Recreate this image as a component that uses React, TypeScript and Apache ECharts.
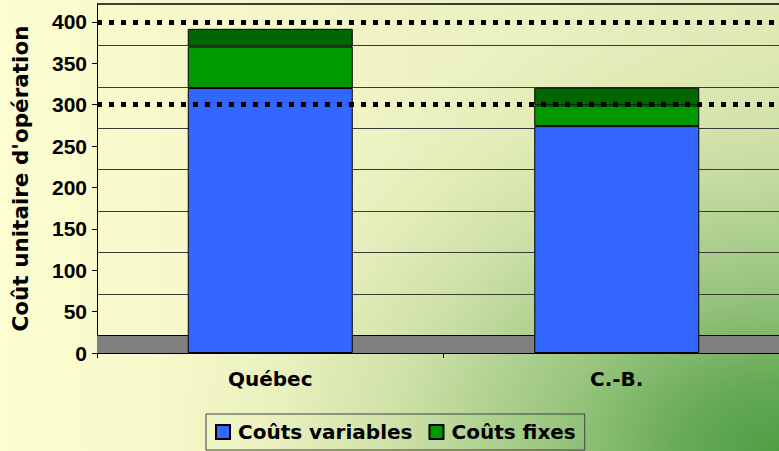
import React, { useEffect, useRef } from "react";
import * as echarts from "echarts";

const CATEGORIES = ["Québec", "C.-B."];
const VARIABLE_COSTS = [320, 274];
const FIXED_COSTS = [50, 25];
const REFERENCE_LINES = [400, 300];
const Y_TICKS = [0, 50, 100, 150, 200, 250, 300, 350, 400];
const SERIES_NAMES = ["Coûts variables", "Coûts fixes"];
const AXIS_TITLE = "Coût unitaire d'opération";

// 3D depth of the original Excel chart (floor / top faces), in axis units
const DEPTH = 21.5;

const TXT = "'DejaVu Sans', sans-serif";

export default function App() {
  const ref = useRef<HTMLDivElement>(null);
  useEffect(() => {
    if (!ref.current) return;
    const chart = echarts.init(ref.current, undefined, { renderer: "svg" });
    const yMax = Y_TICKS[Y_TICKS.length - 1] + DEPTH;
    const barStyle = (color: string) => ({ color, borderColor: "#000", borderWidth: 1 });
    chart.setOption({
      animation: false,
      backgroundColor: "transparent",
      grid: { left: 97, top: 4, height: 349, width: 693, containLabel: false, outerBoundsMode: "none" },
      legend: {
        data: SERIES_NAMES,
        left: 206,
        top: 414,
        orient: "horizontal",
        itemWidth: 14,
        itemHeight: 14,
        itemGap: 16,
        padding: [7, 9, 7, 9],
        borderColor: "#404040",
        borderWidth: 1,
        icon: "rect",
        textStyle: { fontFamily: TXT, fontWeight: "bold", fontSize: 20, color: "#000", lineHeight: 22, padding: [0, 0, 0, 3] },
      },
      xAxis: {
        type: "category",
        data: CATEGORIES,
        axisLine: { lineStyle: { color: "#000", width: 1 } },
        axisTick: { show: true, length: 5, lineStyle: { color: "#000" } },
        axisLabel: { margin: 16, fontFamily: TXT, fontWeight: "bold", fontSize: 20, color: "#000" },
        splitLine: { show: false },
      },
      yAxis: {
        type: "value",
        min: 0,
        max: yMax,
        interval: 50,
        name: AXIS_TITLE,
        nameLocation: "middle",
        nameGap: 66,
        nameTextStyle: { fontFamily: TXT, fontWeight: "bold", fontSize: 21.5, color: "#000" },
        axisLine: { show: true, lineStyle: { color: "#000", width: 1 } },
        axisTick: { show: true, length: 5, customValues: Y_TICKS, lineStyle: { color: "#000" } },
        axisLabel: {
          customValues: Y_TICKS,
          margin: 10,
          fontFamily: "'Liberation Sans', Arial, sans-serif",
          fontWeight: "bold",
          fontSize: 21,
          color: "#000",
        },
        splitLine: { show: false },
      },
      series: [
        {
          name: "back",
          type: "line",
          data: [],
          z: 1,
          silent: true,
          markArea: {
            silent: true,
            z: 1,
            itemStyle: { color: "#808080" },
            data: [[{ yAxis: 0 }, { yAxis: DEPTH }]],
          },
          markLine: {
            silent: true,
            z: 1,
            symbol: "none",
            label: { show: false },
            lineStyle: { color: "#333", width: 1, type: "solid" },
            data: Y_TICKS.map((t) => ({
              yAxis: t + DEPTH,
              lineStyle: { color: t === 0 || t === 400 ? "#000" : "#3a3a3a", width: t === 400 ? 1.5 : 1, type: "solid" },
            })),
          },
        },
        {
          name: SERIES_NAMES[0],
          type: "bar",
          stack: "total",
          barWidth: 165,
          z: 3,
          itemStyle: barStyle("#3366ff"),
          data: VARIABLE_COSTS,
        },
        {
          name: SERIES_NAMES[1],
          type: "bar",
          stack: "total",
          barWidth: 165,
          z: 3,
          itemStyle: barStyle("#009900"),
          data: FIXED_COSTS,
        },
        {
          name: "top",
          type: "bar",
          stack: "total",
          barWidth: 165,
          z: 3,
          itemStyle: barStyle("#006600"),
          data: CATEGORIES.map(() => DEPTH),
        },
        {
          name: "ref",
          type: "line",
          data: [],
          z: 10,
          silent: true,
          markLine: {
            silent: true,
            z: 10,
            symbol: "none",
            label: { show: false },
            lineStyle: { color: "#000", width: 5, type: [5, 7] },
            data: REFERENCE_LINES.map((v) => ({ yAxis: v })),
          },
        },
      ],
    });
    return () => chart.dispose();
  }, []);
  return (
    <div
      style={{
        position: "fixed",
        left: 0,
        top: 0,
        width: 779,
        height: 451,
        background:
          "radial-gradient(779px 560px at 100% 100%, rgba(78,158,68,1) 0%, rgba(95,166,80,0.95) 12%, rgba(120,180,100,0.72) 28%, rgba(150,195,120,0.36) 50%, rgba(175,208,138,0.15) 65%, rgba(180,210,140,0) 80%), linear-gradient(to right, #fcfdd0 0%, #f2f5c6 40%, #e1eab8 100%)",
      }}
    >
      <div ref={ref} style={{ width: 779, height: 451 }} />
    </div>
  );
}
